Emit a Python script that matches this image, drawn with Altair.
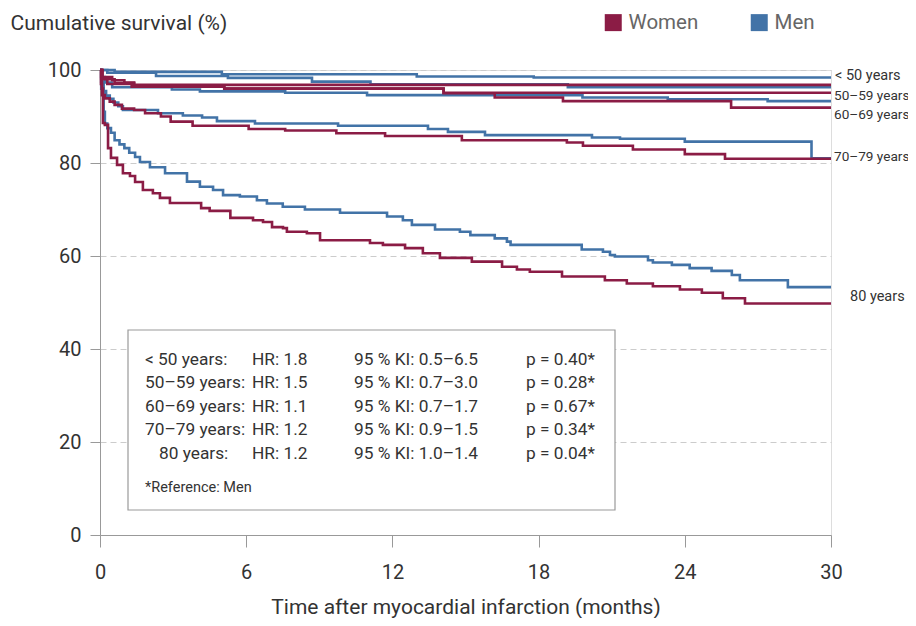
import altair as alt
import pandas as pd

# ---- data (months, cumulative survival %) ----
men_lt50_t = [0, 0.6, 5.0, 13.0, 17.8]
men_lt50_s = [100, 99.6, 99.1, 98.6, 98.4]
women_lt50_t = [0, 0.1, 0.5, 1.0, 1.4]
women_lt50_s = [100, 98.5, 97.8, 97.3, 96.8]

men_50_t = [0, 0.3, 2.3, 5.25, 8.7, 11.1, 19.2]
men_50_s = [100, 99.4, 98.7, 98.3, 97.5, 96.9, 96.3]
women_50_t = [0, 0.1, 0.6, 1.4, 5.1, 14.1]
women_50_s = [100, 98.0, 97.2, 96.4, 96.0, 95.1]

men_60_t = [0, 0.05, 0.2, 0.5, 2.95, 4.1, 7.6, 10.96, 19.8, 23.3, 27.4]
men_60_s = [100, 98.5, 97.3, 96.3, 95.8, 95.4, 95.1, 94.6, 94.1, 93.7, 93.3]
women_60_t = [0, 0.05, 0.3, 1.3, 5.1, 14.1, 16.2, 19.0, 25.9]
women_60_s = [100, 98.2, 97.0, 96.4, 96.0, 95.0, 94.1, 93.3, 91.9]

men_70_t = [0, 0.05, 0.15, 0.25, 0.4, 0.55, 0.75, 0.94, 2.38, 3.4, 4.19, 4.8,
            6.36, 9.77, 13.46, 14.28, 15.8, 20.19, 21.34, 24.0, 29.2]
men_70_s = [100, 97.5, 95.5, 94.5, 93.8, 93.0, 92.2, 91.4, 90.7, 90.2, 89.8, 89.0,
            88.5, 88.0, 87.3, 86.7, 86.0, 85.5, 85.2, 84.6, 81.0]
women_70_t = [0, 0.04, 0.08, 0.2, 0.4, 0.6, 0.9, 1.4, 1.85, 2.5, 2.9, 3.8, 6.1,
              7.6, 9.7, 11.7, 14.85, 19.16, 19.82, 21.87, 24.0, 25.65]
women_70_s = [100, 97.0, 94.6, 93.9, 93.2, 92.5, 91.7, 91.4, 90.7, 90.0, 88.9, 88.0, 87.3,
              87.0, 86.4, 85.8, 84.9, 84.4, 83.7, 82.9, 81.9, 80.9]

men_80_t = [0, 0.05, 0.15, 0.2, 0.3, 0.45, 0.6, 0.8, 1.0, 1.2, 1.44, 1.64, 2.05, 2.67,
            3.57, 4.1, 4.64, 5.05, 5.74, 6.44, 6.85, 7.5, 8.41, 9.85, 11.78, 12.43,
            12.8, 13.75, 14.77, 15.2, 16.2, 16.7, 16.85, 19.77, 20.64, 20.93, 21.13,
            22.49, 22.69, 23.47, 24.2, 25.1, 25.93, 26.26, 28.23]
men_80_s = [100, 96.0, 91.0, 88.5, 87.5, 86.5, 84.9, 84.0, 83.2, 82.2, 81.3, 80.2, 79.1, 77.8,
            76.0, 74.9, 74.2, 73.1, 72.8, 72.0, 71.3, 70.6, 70.0, 69.3, 68.5, 67.7,
            66.7, 65.7, 65.2, 64.5, 63.8, 63.1, 62.4, 61.4, 60.9, 60.2, 59.9,
            59.1, 58.6, 58.1, 57.4, 56.8, 55.9, 54.8, 53.3]
women_80_t = [0, 0.08, 0.12, 0.2, 0.33, 0.45, 0.7, 0.94, 1.23, 1.44, 1.76, 2.17, 2.46,
              2.87, 4.15, 4.5, 5.35, 6.28, 6.69, 7.06, 7.51, 7.67, 8.49, 9.03, 11.08,
              11.61, 12.52, 13.25, 13.95, 15.26, 16.5, 17.11, 17.64, 18.96, 20.72,
              21.62, 22.69, 23.8, 24.7, 25.56, 26.47]
women_80_s = [100, 96.0, 88.6, 88.2, 83.2, 81.1, 79.6, 77.8, 77.2, 75.9, 74.2, 73.5, 72.5,
              71.4, 70.3, 69.7, 68.2, 67.7, 67.3, 66.2, 66.0, 65.2, 64.9, 63.4, 62.8,
              62.4, 61.7, 60.6, 59.6, 58.8, 57.7, 57.1, 56.6, 55.6, 54.8,
              54.1, 53.5, 52.8, 52.1, 50.9, 49.8]

end_month = 30

series = [
    ("Men", "<50", men_lt50_t, men_lt50_s),
    ("Men", "50-59", men_50_t, men_50_s),
    ("Men", "60-69", men_60_t, men_60_s),
    ("Men", "70-79", men_70_t, men_70_s),
    ("Men", "80", men_80_t, men_80_s),
    ("Women", "<50", women_lt50_t, women_lt50_s),
    ("Women", "50-59", women_50_t, women_50_s),
    ("Women", "60-69", women_60_t, women_60_s),
    ("Women", "70-79", women_70_t, women_70_s),
    ("Women", "80", women_80_t, women_80_s),
]

end_labels = ["< 50 years", "50\u201359 years", "60\u201369 years", "70\u201379 years", "80 years"]
end_label_y = [98.7, 94.4, 90.3, 81.3, 51.2]
end_label_kind = ["plain", "dash", "dash", "dash", "indent"]

box_age = ["< 50 years:", "50\u201359 years:", "60\u201369 years:", "70\u201379 years:", "80 years:"]
box_hr = ["HR: 1.8", "HR: 1.5", "HR: 1.1", "HR: 1.2", "HR: 1.2"]
box_ci = ["95 % KI: 0.5\u20136.5", "95 % KI: 0.7\u20133.0", "95 % KI: 0.7\u20131.7",
          "95 % KI: 0.9\u20131.5", "95 % KI: 1.0\u20131.4"]
box_p = ["p = 0.40*", "p = 0.28*", "p = 0.67*", "p = 0.34*", "p = 0.04*"]
box_note = "*Reference: Men"

sexes = ["Women", "Men"]
colors = ["#8b1c45", "#4273a7"]

# ---- build tables ----
rows = []
for sex, grp, ts, ss in series:
    for t, s in zip(ts, ss):
        rows.append({"sex": sex, "group": grp, "key": sex + grp, "t": t, "s": s})
    rows.append({"sex": sex, "group": grp, "key": sex + grp, "t": end_month, "s": ss[-1]})
lines_df = pd.DataFrame(rows)

labels_df = pd.DataFrame({"label": end_labels, "y": end_label_y, "t": [end_month] * 5,
                          "kind": end_label_kind})

box_df = pd.DataFrame({"row": list(range(5)), "age": box_age, "hr": box_hr,
                       "ci": box_ci, "p": box_p,
                       "indent": [0, 0, 0, 0, 1]})

FONT = "Roboto"
TXT = "#333333"
W, H = 731, 465

xscale = alt.Scale(domain=[0, 30], nice=False, zero=True)
yscale = alt.Scale(domain=[0, 100], nice=False)
cscale = alt.Scale(domain=sexes, range=colors)

lines = alt.Chart(lines_df).mark_line(interpolate="step-after", strokeWidth=2.6).encode(
    x=alt.X("t:Q", scale=xscale,
            axis=alt.Axis(values=[0, 6, 12, 18, 24, 30], title="Time after myocardial infarction (months)",
                          grid=False, domainColor="#999999", tickColor="#999999", tickSize=12,
                          labelFontSize=20, labelColor=TXT, labelPadding=15, labelFont=FONT,
                          labelFlush=False,
                          titleFont=FONT, titleFontSize=21, titleFontWeight="normal",
                          titleColor=TXT, titleBaseline="alphabetic", titleY=78)),
    y=alt.Y("s:Q", scale=yscale,
            axis=alt.Axis(values=[0, 20, 40, 60, 80, 100], title="Cumulative survival (%)",
                          grid=True, gridDash=[6, 4], gridColor="#cccccc",
                          domainColor="#999999", tickColor="#999999", tickSize=10,
                          labelFontSize=20, labelColor=TXT, labelPadding=9, labelFont=FONT,
                          titleFont=FONT, titleFontSize=21, titleFontWeight="normal",
                          titleColor=TXT, titleAngle=0, titleAlign="left",
                          titleBaseline="alphabetic", titleX=-90, titleY=-41)),
    color=alt.Color("sex:N", scale=cscale, sort=sexes,
                    legend=alt.Legend(title=None, orient="none", direction="horizontal",
                                      legendX=503, legendY=-58, symbolType="square",
                                      symbolSize=64, symbolStrokeWidth=9,
                                      labelFont=FONT, labelFontSize=20.5, labelColor="#666666",
                                      labelOffset=5, columnPadding=38)),
    detail="key:N",
    order=alt.Order("t:Q"),
)

end_base = alt.Chart(labels_df)
end_kw = dict(align="left", baseline="middle", font=FONT, color=TXT)
end_text_a = end_base.transform_filter("datum.kind == 'plain'").mark_text(
    dx=4, fontSize=14.5, **end_kw).encode(
    x=alt.X("t:Q", scale=xscale), y=alt.Y("y:Q", scale=yscale), text="label:N")
end_text_d = end_base.transform_filter("datum.kind == 'dash'").mark_text(
    dx=3, fontSize=13.6, **end_kw).encode(
    x=alt.X("t:Q", scale=xscale), y=alt.Y("y:Q", scale=yscale), text="label:N")
end_text_b = end_base.transform_filter("datum.kind == 'indent'").mark_text(
    dx=19, fontSize=14.5, **end_kw).encode(
    x=alt.X("t:Q", scale=xscale), y=alt.Y("y:Q", scale=yscale), text="label:N")

box = alt.Chart(pd.DataFrame({"k": [0]})).mark_rect(fill="white", stroke="#9a9a9a",
                                                    strokeWidth=1.2).encode(
    x=alt.value(28), x2=alt.value(515), y=alt.value(260), y2=alt.value(440))

base_box = alt.Chart(box_df).transform_calculate(
    ypix="289.5 + datum.row * 23.5",
    xage="datum.indent == 1 ? 59 : 45",
)
txt_kw = dict(align="left", baseline="middle", font=FONT, fontSize=17.3, color=TXT)
col_age = base_box.mark_text(**txt_kw).encode(
    x=alt.X("xage:Q", scale=None), y=alt.Y("ypix:Q", scale=None), text="age:N")
col_hr = base_box.mark_text(**txt_kw).encode(
    x=alt.value(152), y=alt.Y("ypix:Q", scale=None), text="hr:N")
col_ci = base_box.mark_text(**txt_kw).encode(
    x=alt.value(254), y=alt.Y("ypix:Q", scale=None), text="ci:N")
col_p = base_box.mark_text(**txt_kw).encode(
    x=alt.value(426), y=alt.Y("ypix:Q", scale=None), text="p:N")
note = alt.Chart(pd.DataFrame({"note": [box_note]})).mark_text(
    align="left", baseline="middle", font=FONT, fontSize=14.5, color=TXT).encode(
    x=alt.value(45), y=alt.value(418), text="note:N")

chart = alt.layer(lines, end_text_a, end_text_d, end_text_b, box,
                  col_age, col_hr, col_ci, col_p, note).properties(
    width=W, height=H,
    autosize=alt.AutoSizeParams(type="none"),
    padding={"left": 92, "top": 62, "right": 77, "bottom": 83},
).configure_view(stroke=None).configure(background="white")

chart.save("out.html", embed_options={"renderer": "svg", "actions": False})
